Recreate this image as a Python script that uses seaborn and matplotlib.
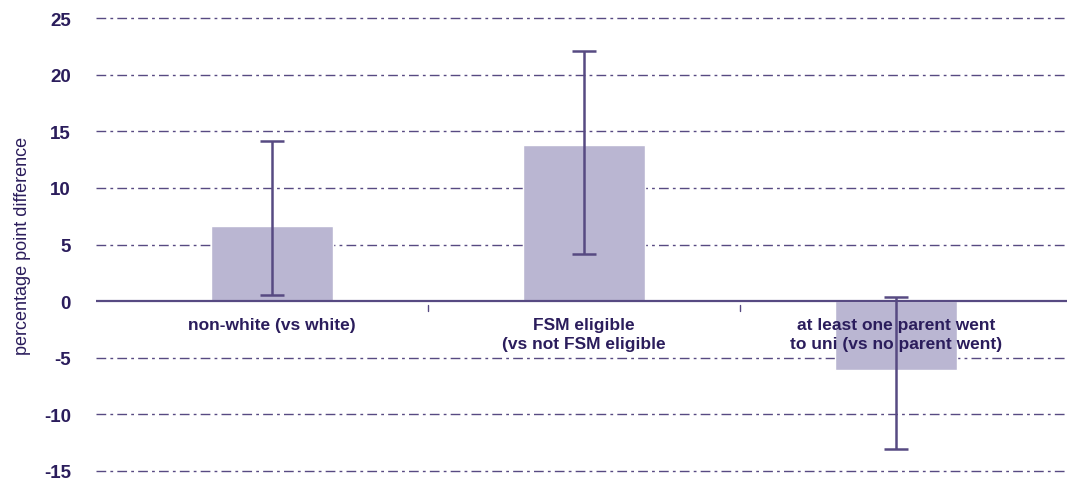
import matplotlib
matplotlib.use("Agg")
import matplotlib.pyplot as plt
import seaborn as sns
import pandas as pd
import numpy as np

categories = ["non-white (vs white)",
              "FSM eligible\n(vs not FSM eligible",
              "at least one parent went\nto uni (vs no parent went)"]
values = [6.6, 13.8, -6.1]
ci_low = [0.5, 4.2, -13.1]
ci_high = [14.1, 22.1, 0.4]
yticks = [-15, -10, -5, 0, 5, 10, 15, 20, 25]

BAR = "#bab6d2"
LINE = "#574a82"
TEXT = "#2b1d5c"

sns.set_theme(style="white")
plt.rcParams["font.family"] = ["Liberation Sans", "DejaVu Sans"]

fig = plt.figure(figsize=(10.77, 4.81), dpi=100)
ax = fig.add_axes([96 / 1077, 1 - 472 / 481, (1067 - 96) / 1077, (472 - 19) / 481])

df = pd.DataFrame({"group": categories, "value": values})
sns.barplot(data=df, x="group", y="value", color=BAR, saturation=1,
            width=0.39, ax=ax, zorder=2, errorbar=None)

xs = np.arange(len(categories))
lower = np.array(values) - np.array(ci_low)
upper = np.array(ci_high) - np.array(values)
ax.errorbar(xs, values, yerr=[lower, upper], fmt="none", ecolor=LINE,
            elinewidth=1.8, capsize=8.6, capthick=1.8, zorder=3)

# horizontal gridlines: dash-dot except the zero line, which is solid
for t in yticks:
    if t == 0:
        ax.axhline(0, color=LINE, lw=1.6, zorder=2.5)
    else:
        ax.axhline(t, color=LINE, lw=1.0, ls=(0, (7, 3, 2, 3)), zorder=1,
                   clip_on=False)

ax.set_ylim(-15, 25)
ax.set_xlim(-0.564, 2.548)
ax.set_yticks(yticks)
ax.set_yticklabels([str(t) for t in yticks], fontsize=13.5, fontweight="bold", color=TEXT)
ax.tick_params(axis="y", length=0, pad=18)

# category labels sit just below the zero line
ax.set_xticks([])
ax.set_xlabel("")
for x, lab in zip(xs, categories):
    ax.text(x, -1.4, lab, ha="center", va="top", fontsize=12.5, fontweight="bold",
            color=TEXT, linespacing=1.35, zorder=4)

# small separator ticks between categories
for sep in [0.5, 1.5]:
    ax.plot([sep, sep], [-0.35, -0.85], color=LINE, lw=1.0, zorder=2)

ax.set_ylabel("percentage point difference", fontsize=13, color=TEXT, labelpad=9)
for s in ax.spines.values():
    s.set_visible(False)

fig.savefig("out.png", dpi=100)
